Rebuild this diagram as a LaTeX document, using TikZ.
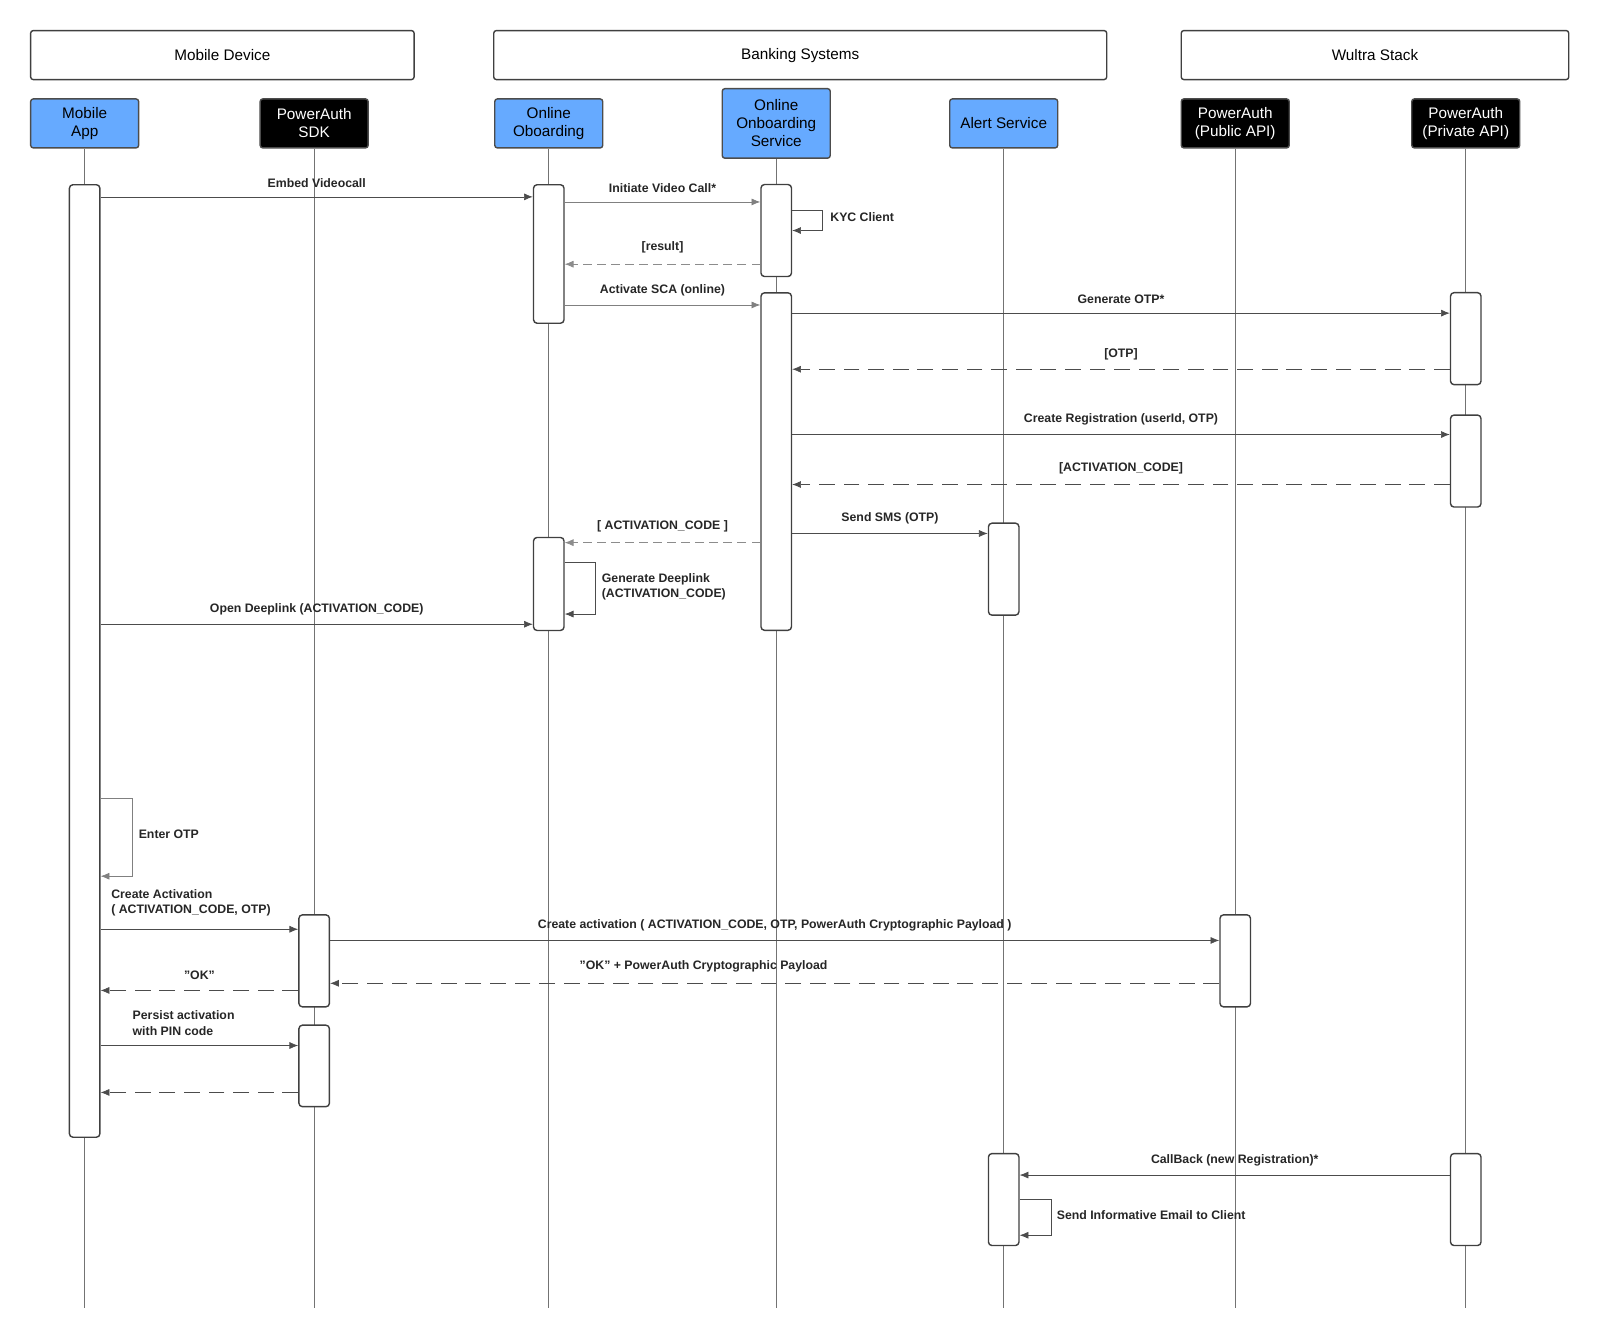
\documentclass[tikz,border=0pt]{standalone}
\usepackage{fontspec}
\setmainfont{Liberation Sans}
\usetikzlibrary{calc, positioning, arrows.meta}
\definecolor{lblue}{HTML}{66AAFF}
\newcommand\qq{\symbol{34}}

\begin{document}
\begin{tikzpicture}[x=0.0204cm, y=-0.0204cm,
  grp/.style={draw=black!75, thick, rounded corners=1.5pt, minimum width=#1, minimum height=0.98cm, font=\fontsize{8.7}{10}\selectfont},
  part/.style={draw=black!70, thick, rounded corners=1.5pt, minimum width=2.16cm, minimum height=0.98cm, align=center, font=\fontsize{8.7}{10.2}\selectfont, inner sep=1pt},
  bpart/.style={part, fill=lblue},
  kpart/.style={part, fill=black, text=white},
  act/.style={draw=black!75, thick, fill=white, rounded corners=2pt, minimum width=0.61cm, minimum height=#1, inner sep=0pt},
  life/.style={draw=black!55, thin},
  msg/.style={draw=black!70, -{Latex[length=5pt,width=4pt]}},
  ret/.style={msg, dash pattern=on 9pt off 5pt},
  lab/.style={font=\bfseries\fontsize{7}{8.7}\selectfont, text=black!85, inner sep=1pt}]
  \useasboundingbox (0,0) rectangle (1568.6,1312.7);

  % groups
  \node[grp=7.67cm] (gmob) at (218,54) {Mobile Device};
  \node[grp=12.26cm] (gbank) at (784.5,54) {Banking Systems};
  \node[grp=7.75cm] (gwul) at (1348,54) {Wultra Stack};

  % participants
  \node[bpart] (app) at (83,121) {Mobile\\App};
  \node[kpart] (sdk) at (308,121) {PowerAuth\\SDK};
  \node[bpart] (oo) at (538,121) {Online\\Oboarding};
  \node[bpart, minimum height=1.39cm] (oos) at (761,121) {Online\\Onboarding\\Service};
  \node[bpart] (alert) at (984,121) {Alert Service};
  \node[kpart] (pub) at (1211,121) {PowerAuth\\(Public API)};
  \node[kpart] (priv) at (1437,121) {PowerAuth\\(Private API)};

  % lifelines
  \foreach \p in {app, sdk, oo, oos, alert, pub, priv}
    \draw[life] (\p.south) -- (\p.south |- 0,1282);

  % activations
  \node[act=19.05cm] (appA) at (83,648) {};
  \node[act=2.77cm] (ooA) at (538,249) {};
  \node[act=1.86cm] (ooB) at (538,572.5) {};
  \node[act=1.84cm] (oosA) at (761,226) {};
  \node[act=6.75cm] (oosB) at (761,452.5) {};
  \node[act=1.84cm] (privA) at (1437,332) {};
  \node[act=1.84cm] (privB) at (1437,452) {};
  \node[act=1.84cm] (privC) at (1437,1176) {};
  \node[act=1.84cm] (alertA) at (984,558) {};
  \node[act=1.84cm] (alertB) at (984,1176) {};
  \node[act=1.84cm] (sdkA) at (308,942) {};
  \node[act=1.63cm] (sdkB) at (308,1045) {};
  \node[act=1.84cm] (pubA) at (1211,942) {};

  % messages
  \draw[msg] (appA.east |- 0,193) -- node[lab, above=4pt, pos=.5] {Embed Videocall} (ooA.west |- 0,193);
  \draw[msg, draw=black!50] (ooA.east |- 0,198) -- node[lab, above=4pt] {Initiate Video Call*} (oosA.west |- 0,198);
  \draw[msg] (oosA.east |- 0,206) -- ++(30,0) -- ++(0,20) -- (oosA.east |- 0,226);
  \node[lab, anchor=west] (kyc) at (812,213) {KYC Client};
  \draw[ret, draw=black!45, dash pattern=on 5pt off 3pt] (oosA.west |- 0,259) -- node[lab, above=5pt] {[result]} (ooA.east |- 0,259);
  \draw[msg, draw=black!50] (ooA.east |- 0,299) -- node[lab, above=4pt] {Activate SCA (online)} (oosB.west |- 0,299);
  \draw[msg] (oosB.east |- 0,307) -- node[lab, above=4pt] {Generate OTP*} (privA.west |- 0,307);
  \draw[ret] (privA.west |- 0,362) -- node[lab, above=4pt] {[OTP]} (oosB.east |- 0,362);
  \draw[msg] (oosB.east |- 0,426) -- node[lab, above=4pt] {Create Registration (userId, OTP)} (privB.west |- 0,426);
  \draw[ret] (privB.west |- 0,475) -- node[lab, above=5pt] {[ACTIVATION\_CODE]} (oosB.east |- 0,475);
  \draw[msg] (oosB.east |- 0,523) -- node[lab, above=4pt] {Send SMS (OTP)} (alertA.west |- 0,523);
  \draw[ret, draw=black!45, dash pattern=on 5pt off 3pt] (oosB.west |- 0,532) -- node[lab, above=5pt] {[ ACTIVATION\_CODE ]} (ooB.east |- 0,532);
  \draw[msg] (ooB.east |- 0,551) -- ++(30,0) -- ++(0,51) -- (ooB.east |- 0,602);
  \node[lab, anchor=west, align=left] (deep) at (588,575) {Generate Deeplink\\(ACTIVATION\_CODE)};
  \draw[msg] (appA.east |- 0,612) -- node[lab, above=4pt] {Open Deeplink (ACTIVATION\_CODE)} (ooB.west |- 0,612);
  \draw[msg, draw=black!50] (appA.east |- 0,783) -- ++(31,0) -- ++(0,76) -- (appA.east |- 0,859);
  \node[lab, anchor=west] (otp) at (134,818) {Enter OTP};
  \draw[msg] (appA.east |- 0,911) -- (sdkA.west |- 0,911);
  \node[lab, anchor=west, align=left] (cact) at (107,885) {Create Activation\\( ACTIVATION\_CODE, OTP)};
  \draw[msg] (sdkA.east |- 0,922) -- node[lab, above=4pt] {Create activation ( ACTIVATION\_CODE, OTP, PowerAuth Cryptographic Payload )} (pubA.west |- 0,922);
  \draw[ret] (pubA.west |- 0,964) -- node[lab, above=5pt, pos=.58] {\qq OK\qq{} + PowerAuth Cryptographic Payload} (sdkA.east |- 0,964);
  \draw[ret] (sdkA.west |- 0,971) -- node[lab, above=5pt, pos=.5] {\qq OK\qq} (appA.east |- 0,971);
  \draw[msg] (appA.east |- 0,1025) -- (sdkB.west |- 0,1025);
  \node[lab, anchor=west, align=left] (pers) at (128,1003) {Persist activation\\with PIN code};
  \draw[ret] (sdkB.west |- 0,1071) -- (appA.east |- 0,1071);
  \draw[msg] (privC.west |- 0,1152) -- node[lab, above=4pt] {CallBack (new Registration)*} (alertB.east |- 0,1152);
  \draw[msg] (alertB.east |- 0,1176) -- ++(31,0) -- ++(0,35) -- (alertB.east |- 0,1211);
  \node[lab, anchor=west] (mail) at (1034,1191) {Send Informative Email to Client};
\end{tikzpicture}
\end{document}
